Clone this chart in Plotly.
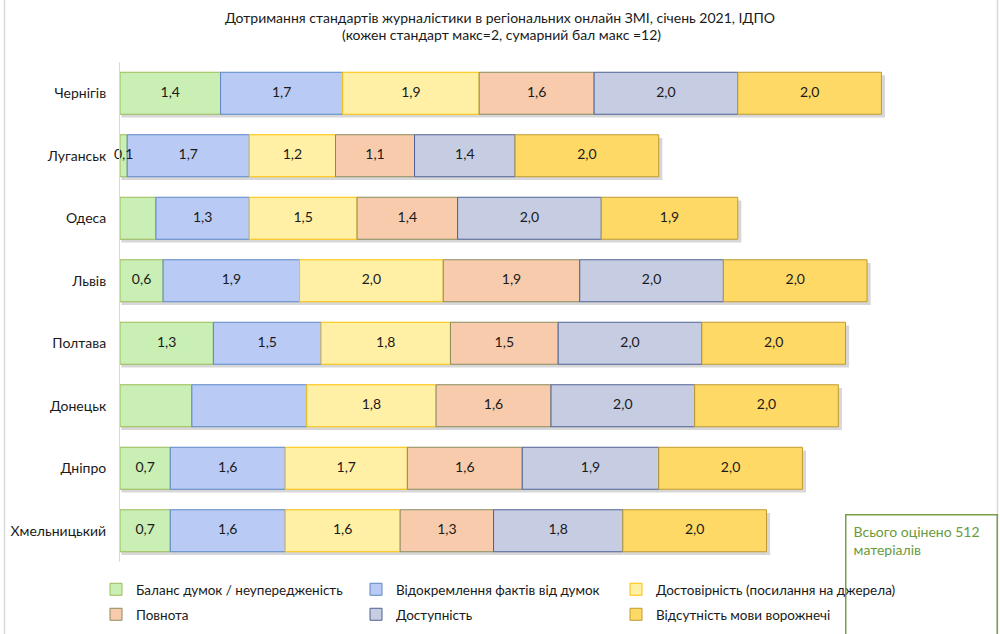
import numpy as np
import plotly.graph_objects as go

cities = ["Чернігів", "Луганськ", "Одеса", "Львів", "Полтава", "Донецьк", "Дніпро", "Хмельницький"]

balance       = [1.4, 0.1, 0.5, 0.6, 1.3, 1.0, 0.7, 0.7]
separation    = [1.7, 1.7, 1.3, 1.9, 1.5, 1.6, 1.6, 1.6]
reliability   = [1.9, 1.2, 1.5, 2.0, 1.8, 1.8, 1.7, 1.6]
completeness  = [1.6, 1.1, 1.4, 1.9, 1.5, 1.6, 1.6, 1.3]
accessibility = [2.0, 1.4, 2.0, 2.0, 2.0, 2.0, 1.9, 1.8]
no_hate       = [2.0, 2.0, 1.9, 2.0, 2.0, 2.0, 2.0, 2.0]

series_names = [
    "Баланс думок / неупередженість",
    "Відокремлення фактів від думок",
    "Достовірність (посилання на джерела)",
    "Повнота",
    "Доступність",
    "Відсутність мови ворожнечі",
]
series_values = [balance, separation, reliability, completeness, accessibility, no_hate]

# labels not shown in the original (city, series index)
hidden_labels = [("Одеса", 0), ("Донецьк", 0), ("Донецьк", 1)]

fills = ["#c9efb4", "#b9cbf5", "#fff0a6", "#f8cbad", "#c6cce2", "#ffd966"]
borders = ["#9bbb59", "#5b86c6", "#ffc000", "#8a8a5c", "#4f6294", "#bf9a30"]

vals = np.array(series_values)
bases = np.vstack([np.zeros(len(cities)), np.cumsum(vals, axis=0)[:-1]])
totals = vals.sum(axis=0)

FONT = "Lato"
W = 0.672
PL, PW, PT, PH = 120, 862, 62, 500

def px_x(px):
    return (px - PL) / PW

def px_y(py):
    return (PT + PH - py) / PH

fig = go.Figure()

# soft shadow under each bar
fig.add_trace(go.Bar(
    y=cities, x=totals + 0.03, base=0.02, orientation="h",
    width=W, offset=-W / 2 + 0.05,
    marker=dict(color="rgba(110,110,110,0.28)", line=dict(width=0)),
    showlegend=False, hoverinfo="skip",
))

legend_ids = ["legend", "legend2", "legend3", "legend4", "legend5", "legend6"]
lab_x, lab_y, lab_t = [], [], []
for i, (name, v) in enumerate(zip(series_names, series_values)):
    fig.add_trace(go.Bar(
        y=cities, x=v, base=bases[i], orientation="h",
        name=name, width=W,
        marker=dict(color=fills[i], line=dict(color=borders[i], width=1)),
        legend=legend_ids[i],
    ))
    for j, c in enumerate(cities):
        if (c, i) in hidden_labels:
            continue
        lab_x.append(bases[i][j] + v[j] / 2)
        lab_y.append(c)
        lab_t.append(f"{v[j]:.1f}".replace(".", ","))

# value labels on top of all segments
fig.add_trace(go.Scatter(
    x=lab_x, y=lab_y, text=lab_t, mode="text",
    textposition="middle center",
    textfont=dict(size=14, color="#1a1a1a", family=FONT),
    cliponaxis=False, showlegend=False, hoverinfo="skip",
))

legend_layout = {}
col_px = [96, 356, 616]
row_px = [574, 599]
for i, lid in enumerate(legend_ids):
    legend_layout[lid] = dict(
        orientation="h", x=px_x(col_px[i % 3]), y=px_y(row_px[i // 3]),
        xanchor="left", yanchor="top", itemwidth=30,
        font=dict(family=FONT, size=13.5, color="#1a1a1a"),
        bgcolor="rgba(0,0,0,0)",
    )

fig.update_layout(
    width=1000, height=634,
    margin=dict(l=PL, r=1000 - PL - PW, t=PT, b=634 - PT - PH, autoexpand=False),
    paper_bgcolor="white", plot_bgcolor="white",
    barmode="overlay",
    separators=", ",
    font=dict(family=FONT, size=14, color="#1a1a1a"),
    title=dict(
        text="Дотримання стандартів журналістики в регіональних онлайн ЗМІ, січень 2021, ІДПО",
        x=0.5, xref="container", xanchor="center",
        yref="container", y=1 - 18 / 634, yanchor="middle",
        font=dict(family=FONT, size=14, color="#1a1a1a"),
    ),
    xaxis=dict(range=[0, 12], visible=False, fixedrange=True),
    yaxis=dict(
        type="category", autorange="reversed",
        showline=True, linecolor="#d9d9d9", linewidth=1,
        showgrid=False, zeroline=False, ticks="", ticklabelstandoff=10,
        tickfont=dict(family=FONT, size=14, color="#1a1a1a"),
    ),
    shapes=[
        dict(type="line", xref="paper", yref="paper", x0=px_x(4.5), x1=px_x(4.5),
             y0=px_y(-5), y1=px_y(640), line=dict(color="#d9d9d9", width=1.5)),
        dict(type="line", xref="paper", yref="paper", x0=px_x(997.5), x1=px_x(997.5),
             y0=px_y(-5), y1=px_y(640), line=dict(color="#d9d9d9", width=1.5)),
    ],
    annotations=[
        dict(
            text="(кожен стандарт макс=2, сумарний бал макс =12)",
            xref="paper", yref="paper", x=px_x(501), y=px_y(35),
            xanchor="center", yanchor="middle", showarrow=False,
            font=dict(family=FONT, size=14, color="#1a1a1a"),
        ),
        dict(
            text="Всього оцінено 512<br>матеріалів",
            xref="paper", yref="paper", x=px_x(845), y=px_y(514),
            xanchor="left", yanchor="top", showarrow=False,
            width=136, height=150, align="left", valign="top",
            bordercolor="#77a04a", borderwidth=1.5, borderpad=7,
            bgcolor="rgba(0,0,0,0)",
            font=dict(family=FONT, size=14, color="#6a9a3c"),
        ),
    ],
    hovermode=False,
    **legend_layout,
)

fig.write_html("out.html")
